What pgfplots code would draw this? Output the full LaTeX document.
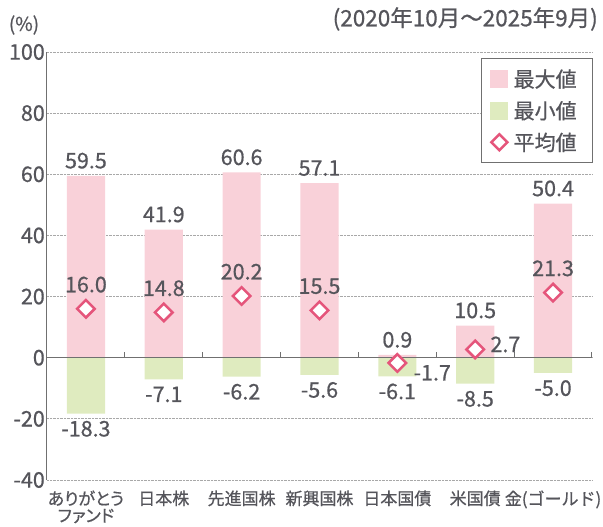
\documentclass[border=0pt]{standalone}
\usepackage{fontspec}
\setmainfont{Noto Sans CJK JP}[FakeBold=0.7]
\newfontfamily\jpp{Noto Sans CJK JP}[RawFeature=+palt, FakeBold=0.7]
\usepackage{pgfplots}
\pgfplotsset{compat=1.18}
\definecolor{pinkc}{HTML}{F9D1D9}
\definecolor{greenc}{HTML}{DFEBBF}
\definecolor{diamc}{HTML}{E5557B}
\definecolor{textc}{HTML}{55555B}
\definecolor{axisc}{HTML}{707070}
\definecolor{gridc}{HTML}{A8A8A8}
\begin{document}
\begin{tikzpicture}
\path[use as bounding box] (-47pt,-47pt) rectangle (556pt,480pt);
\begin{axis}[
  at={(0pt,0pt)}, anchor=south west,
  scale only axis, width=545pt, height=428pt,
  xmin=-0.5, xmax=6.5, ymin=-40, ymax=100,
  axis lines*=left,
  x axis line style={draw=none},
  y axis line style={draw=axisc, line width=1pt},
  ytick={-40,-20,0,20,40,60,80,100},
  yticklabels={-40,-20,0,20,40,60,80,100},
  xtick={0,1,2,3,4,5,6},
  xticklabels={{\jpp ありがとう\\\jpp ファンド},日本株,先進国株,新興国株,日本国債,米国債,金(ゴールド)},
  major tick length=0pt,
  ymajorgrids,
  grid style={densely dotted, gridc, line width=0.8pt},
  yticklabel style={font=\fontsize{21.5}{24}\selectfont, text=textc, inner xsep=2pt},
  xticklabel style={font=\fontsize{17}{17}\selectfont, text=textc, align=center, anchor=north, yshift=-7pt},
  clip=false,
  legend style={at={(1.002,0.986)}, anchor=north east, draw=axisc, line width=0.9pt,
    font=\fontsize{21}{21}\selectfont, text=textc, inner xsep=9pt, inner ysep=10pt,
    nodes={inner sep=1pt},
    row sep=10.5pt, /tikz/every odd column/.append style={column sep=4pt}},
  legend cell align=left,
]
\addplot[ybar, bar width=0.49, bar shift=0pt, fill=pinkc, draw=none,
  legend image code/.code={\fill[pinkc] (0pt,-9pt) rectangle (18pt,9pt);},
  nodes near coords, point meta=explicit symbolic,
  nodes near coords style={font=\fontsize{21.5}{24}\selectfont, text=textc, anchor=south, inner sep=2pt, yshift=5pt}]
  table[meta=l] {
x y l
0 59.5 59.5
1 41.9 41.9
2 60.6 60.6
3 57.1 57.1
4 0.9 0.9
5 10.5 10.5
6 50.4 50.4
};
\addlegendentry{最大値\kern6pt}
\addplot[ybar, bar width=0.49, bar shift=0pt, fill=greenc, draw=none,
  legend image code/.code={\fill[greenc] (0pt,-9pt) rectangle (18pt,9pt);},
  nodes near coords, point meta=explicit symbolic,
  nodes near coords style={font=\fontsize{21.5}{24}\selectfont, text=textc, anchor=north, inner sep=2pt, yshift=-5pt}]
  table[meta=l] {
x y l
0 -18.3 -18.3
1 -7.1 -7.1
2 -6.2 -6.2
3 -5.6 -5.6
4 -6.1 -6.1
5 -8.5 -8.5
6 -5.0 -5.0
};
\addlegendentry{最小値\kern6pt}
\addplot[only marks, mark=square*, mark size=6.2pt,
  mark options={rotate=45, fill=white, draw=diamc, line width=2.5pt},
  legend image code/.code={\draw[diamc, fill=white, line width=2.5pt] (9pt,-8pt) -- (17pt,0pt) -- (9pt,8pt) -- (1pt,0pt) -- cycle;},
  nodes near coords, point meta=explicit symbolic,
  nodes near coords style={font=\fontsize{21.5}{24}\selectfont, text=textc, anchor=south, inner sep=2pt, yshift=13pt}]
  table[meta=l] {
x y l
0 16.0 16.0
1 14.8 14.8
2 20.2 20.2
3 15.5 15.5
6 21.3 21.3
};
\addlegendentry{平均値\kern6pt}
\addplot[forget plot, only marks, mark=square*, mark size=6.2pt,
  mark options={rotate=45, fill=white, draw=diamc, line width=2.5pt},
  nodes near coords, point meta=explicit symbolic,
  nodes near coords style={font=\fontsize{21.5}{24}\selectfont, text=textc, anchor=west, inner sep=2pt, xshift=13pt, yshift=-10pt}]
  table[meta=l] {
x y l
4 -1.7 -1.7
};
\addplot[forget plot, only marks, mark=square*, mark size=6.2pt,
  mark options={rotate=45, fill=white, draw=diamc, line width=2.5pt},
  nodes near coords, point meta=explicit symbolic,
  nodes near coords style={font=\fontsize{21.5}{24}\selectfont, text=textc, anchor=west, inner sep=2pt, xshift=12pt, yshift=5pt}]
  table[meta=l] {
x y l
5 2.7 2.7
};
\draw[axisc, line width=1.2pt] (axis cs:-0.5,0) -- (axis cs:6.5,0);
\draw[axisc, line width=1pt]
  (axis cs:0.5,0) -- ++(0pt,6pt)
  (axis cs:1.5,0) -- ++(0pt,6pt)
  (axis cs:2.5,0) -- ++(0pt,6pt)
  (axis cs:3.5,0) -- ++(0pt,6pt)
  (axis cs:4.5,0) -- ++(0pt,6pt)
  (axis cs:5.5,0) -- ++(0pt,6pt)
  (axis cs:6.5,0) -- ++(0pt,6pt);
\end{axis}
\node[anchor=center, text=textc, font=\fontsize{19}{20}\selectfont] at (-23pt,455pt) {(\%)};
\node[anchor=east, text=textc, font=\fontsize{22.5}{23}\selectfont, inner sep=0pt] at (551pt,461pt) {(2020年10月～2025年9月)};
\end{tikzpicture}
\end{document}
